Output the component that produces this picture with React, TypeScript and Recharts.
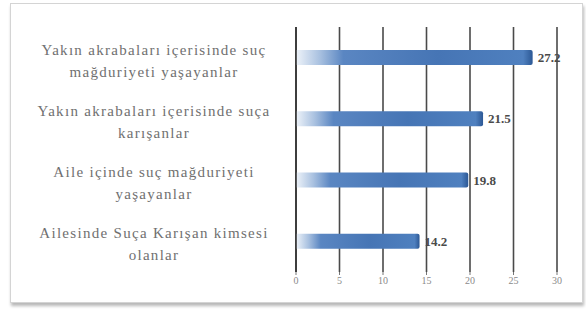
import React from 'react';
import { BarChart, Bar, XAxis, YAxis, CartesianGrid, LabelList } from 'recharts';

const categories = [
  'Yakın akrabaları içerisinde suç|mağduriyeti yaşayanlar',
  'Yakın akrabaları içerisinde suça|karışanlar',
  'Aile içinde suç mağduriyeti|yaşayanlar',
  'Ailesinde Suça Karışan kimsesi|olanlar',
];
const values = [27.2, 21.5, 19.8, 14.2];
const xTicks = [0, 5, 10, 15, 20, 25, 30];

const data = categories.map((name, i) => ({ name, value: values[i] }));

const CategoryTick = (props: any) => {
  const { y, payload } = props;
  const lines = String(payload.value).split('|');
  return (
    <text
      x={154}
      y={y}
      textAnchor="middle"
      fill="#707070"
      fontSize={15}
      fontFamily="'Liberation Serif', serif"
      letterSpacing={1.3}
    >
      {lines.map((l, i) => (
        <tspan key={i} x={154} y={y - 3 + i * 22}>
          {l}
        </tspan>
      ))}
    </text>
  );
};

export default function App() {
  return (
    <div style={{ position: 'absolute', left: 0, top: 0, width: 586, height: 317, background: '#fff' }}>
      <div
        style={{
          position: 'absolute',
          left: 10,
          top: 3,
          width: 571,
          height: 298,
          border: '1px solid #d4d4d4',
          boxShadow: '1px 3px 3px #b8b8b8',
        }}
      />
      <div style={{ position: 'absolute', left: 0, top: 0 }}>
        <BarChart
          width={586}
          height={317}
          data={data}
          layout="vertical"
          margin={{ top: 27, right: 29, bottom: 15, left: 10 }}
        >
          <defs>
            <linearGradient id="barGrad" x1="0" y1="0" x2="1" y2="0">
              <stop offset="0%" stopColor="#eef3f9" />
              <stop offset="10%" stopColor="#a9c1e0" />
              <stop offset="20%" stopColor="#5a86c2" />
              <stop offset="60%" stopColor="#4675b5" />
              <stop offset="96%" stopColor="#4f80bf" />
              <stop offset="100%" stopColor="#2c5895" />
            </linearGradient>
          </defs>
          <CartesianGrid horizontal={false} vertical stroke="#4a4a4a" strokeWidth={1.6} />
          <XAxis
            type="number"
            domain={[0, 30]}
            ticks={xTicks}
            axisLine={false}
            tickLine={{ stroke: '#777' }}
            tickSize={3}
            height={30}
            tick={{ fill: '#8a8a8a', fontSize: 10, fontFamily: "'Liberation Serif', serif" }}
          />
          <YAxis
            type="category"
            dataKey="name"
            width={286}
            axisLine={{ stroke: '#333', strokeWidth: 1.6 }}
            tickLine={false}
            tick={<CategoryTick />}
          />
          <Bar dataKey="value" fill="url(#barGrad)" barSize={15} radius={[0, 2, 2, 0]} isAnimationActive={false}>
            <LabelList
              dataKey="value"
              position="right"
              offset={5}
              fill="#4a4a4a"
              fontSize={13}
              fontWeight="bold"
              fontFamily="'Liberation Serif', serif"
            />
          </Bar>
        </BarChart>
      </div>
    </div>
  );
}
